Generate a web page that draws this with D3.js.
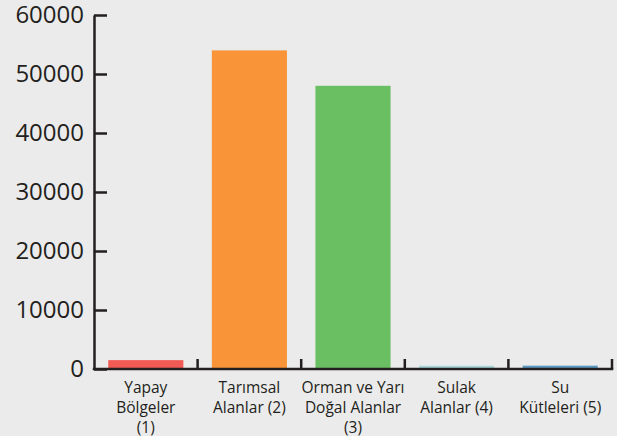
<html>
  <head>
    <meta charset="utf-8">
    <script src="https://d3js.org/d3.v7.min.js"></script>
    <style>
      body { margin: 0; background: #ebebeb; }
      text { font-family: "Open Sans", sans-serif; fill: #231f20; }
    </style>
  </head>
  <body>
    <div id="vis"></div>
    <script>
      // chart data
      const categories = ["Yapay Bölgeler (1)", "Tarımsal Alanlar (2)", "Orman ve Yarı Doğal Alanlar (3)", "Sulak Alanlar (4)", "Su Kütleleri (5)"];
      const labelLines = [["Yapay", "Bölgeler", "(1)"], ["Tarımsal", "Alanlar (2)"], ["Orman ve Yarı", "Doğal Alanlar", "(3)"], ["Sulak", "Alanlar (4)"], ["Su", "Kütleleri (5)"]];
      const values = [1500, 54000, 48000, 550, 570];
      const barColors = ["#f15a55", "#f99538", "#6bbf63", "#a9d7d8", "#5b9bc3"];
      const yTicks = [0, 10000, 20000, 30000, 40000, 50000, 60000];

      let width = 617, height = 436;
      let svg = d3.select("#vis").append("svg")
        .attr("width", width).attr("height", height);

      let x = d3.scaleBand().domain(categories).range([94, 612])
        .paddingInner(0.275).paddingOuter(0.1375);
      let y = d3.scaleLinear().domain([0, 60000]).range([369, 15]);

      // bars
      svg.selectAll(".bar").data(categories).enter()
        .append("rect")
        .attr("class", "bar")
        .attr("x", d => x(d))
        .attr("width", x.bandwidth())
        .attr("y", (d, i) => y(values[i]))
        .attr("height", (d, i) => y(0) - y(values[i]))
        .attr("fill", (d, i) => barColors[i]);

      // y axis, ticks pointing inward
      let yAxis = svg.append("g")
        .attr("transform", "translate(94,0)")
        .call(d3.axisLeft(y).tickValues(yTicks).tickSize(-13).tickSizeOuter(0).tickPadding(10).tickFormat(d3.format("d")));
      yAxis.selectAll("path, line").attr("stroke", "#231f20").attr("stroke-width", 2.5);
      yAxis.selectAll("text").style("font-size", "24px").style("font-weight", 500)
        .style("font-family", "'Open Sans', sans-serif").attr("fill", "#231f20");

      // x axis line + upward ticks at band boundaries
      let xAxis = svg.append("g");
      xAxis.append("line")
        .attr("x1", 94).attr("x2", 612)
        .attr("y1", y(0)).attr("y2", y(0))
        .attr("stroke", "#231f20").attr("stroke-width", 2.5)
        .attr("stroke-linecap", "square");
      xAxis.selectAll(".xtick").data(categories).enter()
        .append("line")
        .attr("class", "xtick")
        .attr("x1", d => x(d) + x.bandwidth() + x.step() * x.paddingInner() / 2)
        .attr("x2", d => x(d) + x.bandwidth() + x.step() * x.paddingInner() / 2)
        .attr("y1", y(0)).attr("y2", y(0) - 10)
        .attr("stroke", "#231f20").attr("stroke-width", 2.5);

      // category labels
      let labels = svg.selectAll(".xlabel").data(categories).enter()
        .append("text")
        .attr("class", "xlabel")
        .attr("text-anchor", "middle")
        .style("font-size", "15.5px");
      labels.each(function (d, i) {
        let t = d3.select(this);
        labelLines[i].forEach((line, j) => {
          t.append("tspan")
            .attr("x", x(d) + x.bandwidth() / 2)
            .attr("y", 393 + j * 20)
            .text(line);
        });
      });
    </script>
  </body>
</html>
